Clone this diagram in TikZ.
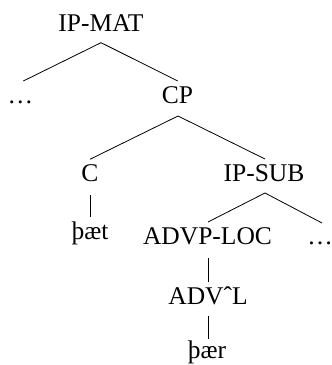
\documentclass[tikz,border=0pt]{standalone}
\usepackage{fontspec}
\setmainfont{Liberation Serif}
\begin{document}
\begin{tikzpicture}[x=1pt,y=1pt,
  lab/.style={anchor=base,inner sep=0pt,font=\fontsize{25.5}{30}\selectfont},
  edge/.style={line width=0.8pt,black}]
\useasboundingbox (0,0) rectangle (332,365);
\node[lab] (ipmat) at (101,333.3) {IP-MAT};
\node[lab] (dots1) at (20.5,261) {\ldots};
\node[lab] (cp) at (177.5,261) {CP};
\node[lab] (c) at (90,183) {C};
\node[lab] (ipsub) at (264,183) {IP-SUB};
\node[lab] (paet) at (90,125) {þæt};
\node[lab] (advploc) at (207.5,120) {ADVP-LOC};
\node[lab] (dots2) at (320,120) {\ldots};
\node[lab] (advl) at (208,60) {ADVˆL};
\node[lab] (paer) at (207,6) {þær};
\draw[edge] ([yshift=-11pt]ipmat.base) -- ([xshift=2.8pt,yshift=23pt]dots1.base);
\draw[edge] ([yshift=-11pt]ipmat.base) -- ([xshift=0.2pt,yshift=23pt]cp.base);
\draw[edge] ([xshift=0.5pt,yshift=-12pt]cp.base) -- ([yshift=22.7pt]c.base);
\draw[edge] ([xshift=0.5pt,yshift=-12pt]cp.base) -- ([xshift=1pt,yshift=23pt]ipsub.base);
\draw[edge] ([yshift=-13pt]c.base) -- ([yshift=23pt]paet.base);
\draw[edge] ([xshift=1pt,yshift=-11pt]ipsub.base) -- ([xshift=0.5pt,yshift=23pt]advploc.base);
\draw[edge] ([xshift=1pt,yshift=-11pt]ipsub.base) -- ([xshift=2pt,yshift=22pt]dots2.base);
\draw[edge] ([xshift=0.5pt,yshift=-13pt]advploc.base) -- ([yshift=23pt]advl.base);
\draw[edge] ([yshift=-11pt]advl.base) -- ([xshift=1pt,yshift=20pt]paer.base);
\end{tikzpicture}
\end{document}
